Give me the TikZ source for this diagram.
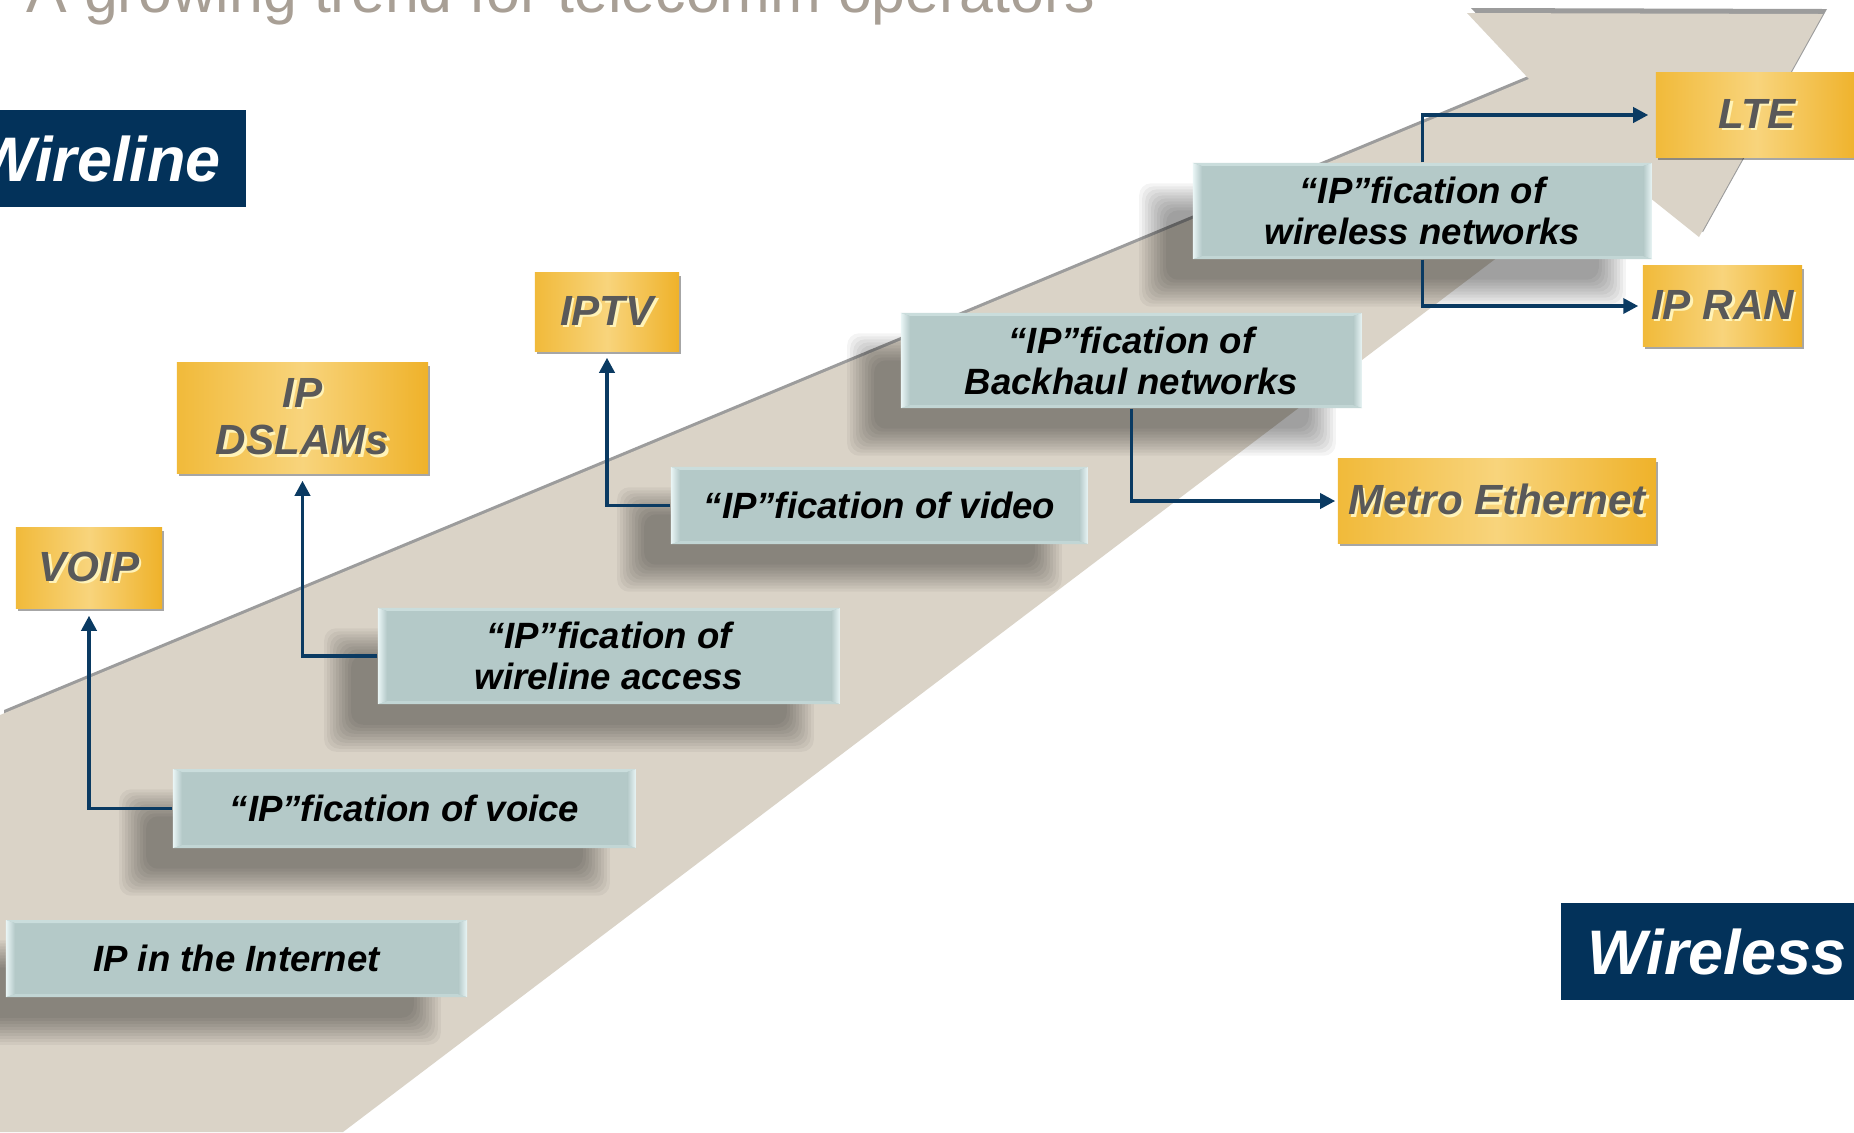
\documentclass[tikz,border=0pt]{standalone}
\usepackage{fontspec}
\setmainfont{Liberation Sans}
\usetikzlibrary{arrows.meta,calc,shadows}
\definecolor{beige}{HTML}{DAD3C7}
\definecolor{bandshd}{HTML}{9C9C9C}
\definecolor{tealc}{HTML}{B4C9C8}
\definecolor{teallt}{HTML}{EAF6F6}
\definecolor{tealtop}{HTML}{CADDDC}
\definecolor{tealbot}{HTML}{C2D6D5}
\definecolor{goldL}{HTML}{F1BA3A}
\definecolor{goldM}{HTML}{F8D47C}
\definecolor{goldR}{HTML}{EFB22A}
\definecolor{goldtxt}{HTML}{595959}
\definecolor{embl}{HTML}{FFF3B8}
\definecolor{navy}{HTML}{03325A}
\definecolor{conncol}{HTML}{0A3A62}
\definecolor{titlec}{HTML}{A89F95}
\pgfdeclarelayer{bg}
\pgfdeclarelayer{shd}
\pgfsetlayers{bg,shd,main}
\newcommand\emb[1]{\makebox[0pt][l]{\hspace{0.7pt}\raisebox{-0.7pt}{\color{embl}#1}}#1}
\newcommand\softshd[1]{%
  \foreach \i in {0,...,9}{%
    \pgfmathsetmacro\e{3*\i-14}%
    \fill[black,opacity=0.042,rounded corners=0.12cm]
      ($(#1.north west)+({-40-(\e)},{34-(\e)})$) rectangle
      ($(#1.south east)+({-40+(\e)},{34+(\e)})$);
  }}
\begin{document}
\begin{tikzpicture}[x=0.01cm, y=-0.01cm,
  tealbox/.style={rectangle, inner sep=0pt, fill=tealc, text=black, align=center,
    font=\fontsize{10.4pt}{11.7pt}\selectfont\bfseries\itshape,
    path picture={
      \fill[tealtop] (path picture bounding box.north west) -- (path picture bounding box.north east)
        -- ($(path picture bounding box.north east)+(-9,3)$) -- ($(path picture bounding box.north west)+(9,3)$) -- cycle;
      \fill[tealbot] (path picture bounding box.south west) -- (path picture bounding box.south east)
        -- ($(path picture bounding box.south east)+(-9,-3)$) -- ($(path picture bounding box.south west)+(9,-3)$) -- cycle;
      \shade[left color=teallt, right color=tealc] (path picture bounding box.south west) -- (path picture bounding box.north west)
        -- ($(path picture bounding box.north west)+(9,3)$) -- ($(path picture bounding box.south west)+(9,-3)$) -- cycle;
      \shade[left color=tealc, right color=teallt] (path picture bounding box.south east) -- (path picture bounding box.north east)
        -- ($(path picture bounding box.north east)+(-9,3)$) -- ($(path picture bounding box.south east)+(-9,-3)$) -- cycle;
    }},
  goldbox/.style={rectangle, inner sep=0pt, left color=goldL, right color=goldR, middle color=goldM,
    text=goldtxt, align=center, font=\fontsize{12pt}{13.4pt}\selectfont\bfseries\itshape,
    drop shadow={shadow xshift=0.6pt, shadow yshift=-0.8pt, opacity=0.35, fill=black}},
  navybox/.style={rectangle, inner sep=0pt, fill=navy, text=white,
    font=\fontsize{17.9pt}{20pt}\selectfont\bfseries\itshape},
  conn/.style={draw=conncol, line width=0.035cm, -{Triangle[width=0.15cm,length=0.15cm]}}
]
\useasboundingbox (0,0) rectangle (1854,1132);
\begin{pgfonlayer}{bg}
  \fill[white] (0,0) rectangle (1854,1132);
  \begin{scope}[shift={(4,-5)}]
    \fill[bandshd] (0,715) -- (1529,79) -- (1467,13) -- (1823,14) -- (1699,237) -- (1614,169) -- (343,1132) -- (0,1132) -- cycle;
  \end{scope}
  \fill[beige] (0,715) -- (1529,79) -- (1467,13) -- (1823,14) -- (1699,237) -- (1614,169) -- (343,1132) -- (0,1132) -- cycle;
\end{pgfonlayer}

\node[anchor=base west, inner sep=0pt, text=titlec, font=\fontsize{17.3pt}{20pt}\selectfont] (title) at (26,12) {A growing trend for telecomm operators};

\node[navybox, minimum width=2.95cm, minimum height=0.97cm] (wireline) at (98.5,158.5) {Wireline};
\node[navybox, minimum width=3.12cm, minimum height=0.97cm] (wireless) at (1717,951.5) {Wireless};

\node[tealbox, minimum width=4.61cm, minimum height=0.77cm] (inet) at (236.5,958.5) {IP in the Internet};
\node[tealbox, minimum width=4.63cm, minimum height=0.79cm] (voice) at (404.5,808.5) {“IP”fication of voice};
\node[tealbox, minimum width=4.62cm, minimum height=0.96cm] (wacc) at (609,656) {“IP”fication of\\wireline access};
\node[tealbox, minimum width=4.17cm, minimum height=0.77cm] (video) at (879.5,505.5) {“IP”fication of video};
\node[tealbox, minimum width=4.61cm, minimum height=0.95cm] (bh) at (1131.5,360.5) {“IP”fication of\\Backhaul networks};
\node[tealbox, minimum width=4.59cm, minimum height=0.96cm] (wnet) at (1422.5,211) {“IP”fication of\\wireless networks};

\node[goldbox, minimum width=1.46cm, minimum height=0.80cm] (voip) at (89,568) {\emb{VOIP}};
\node[goldbox, minimum width=2.51cm, minimum height=1.10cm] (dslam) at (302.5,418) {\emb{IP}\\\emb{DSLAMs}};
\node[goldbox, minimum width=1.44cm, minimum height=0.78cm] (iptv) at (607,312) {\emb{IPTV}};
\node[goldbox, minimum width=3.18cm, minimum height=0.84cm] (metro) at (1497,501) {\emb{Metro Ethernet}};
\node[goldbox, minimum width=2.02cm, minimum height=0.84cm] (lte) at (1757,115) {\emb{LTE}};
\node[goldbox, minimum width=1.59cm, minimum height=0.80cm] (ipran) at (1722.5,306) {\emb{IP RAN}};

\draw[conn, shorten >=0.07cm] (voice.west) -| (voip.south);
\draw[conn, shorten >=0.07cm] (wacc.west) -| (dslam.south);
\draw[conn, shorten >=0.06cm] (video.west) -| (iptv.south);
\draw[conn, shorten >=0.02cm] (bh.south) |- (metro.west);
\draw[conn, shorten >=0.07cm] (wnet.north) |- (lte.west);
\draw[conn, shorten >=0.04cm] (wnet.south) |- (ipran.west);

\begin{pgfonlayer}{shd}
  \softshd{inet}
  \softshd{voice}
  \softshd{wacc}
  \softshd{video}
  \softshd{bh}
  \softshd{wnet}
\end{pgfonlayer}
\end{tikzpicture}
\end{document}
